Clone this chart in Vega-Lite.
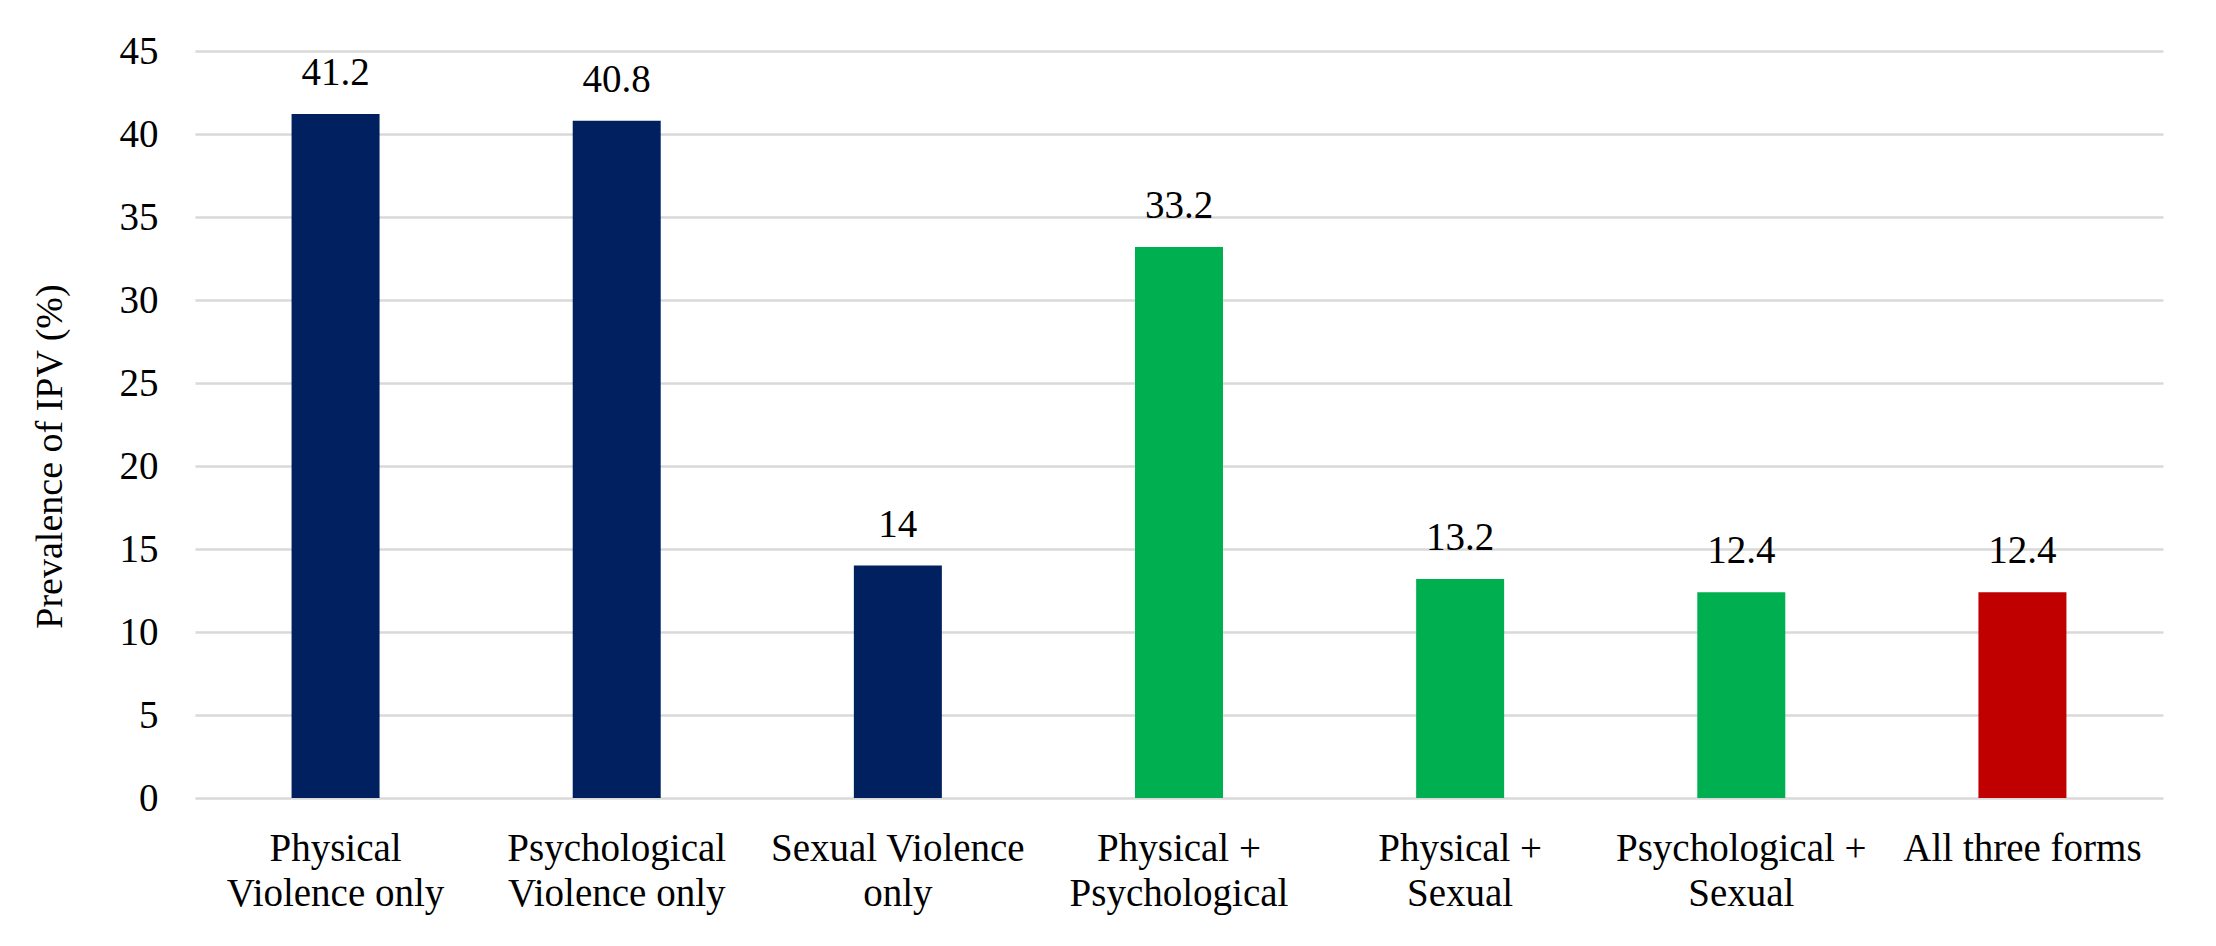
{
  "$schema": "https://vega.github.io/schema/vega-lite/v6.json",
  "width": 1968,
  "height": 747,
  "autosize": {"type": "none"},
  "padding": {"left": 195, "top": 51, "right": 53, "bottom": 148},
  "background": "white",
  "data": {
    "values": [
      {"category": "Physical\nViolence only", "value": 41.2, "group": "Single form"},
      {"category": "Psychological\nViolence only", "value": 40.8, "group": "Single form"},
      {"category": "Sexual Violence\nonly", "value": 14, "group": "Single form"},
      {"category": "Physical +\nPsychological", "value": 33.2, "group": "Two forms"},
      {"category": "Physical +\nSexual", "value": 13.2, "group": "Two forms"},
      {"category": "Psychological +\nSexual", "value": 12.4, "group": "Two forms"},
      {"category": "All three forms", "value": 12.4, "group": "Three forms"}
    ]
  },
  "encoding": {
    "x": {
      "field": "category",
      "type": "nominal",
      "sort": null,
      "scale": {"paddingInner": 0.687, "paddingOuter": 0.3435},
      "axis": {
        "title": null,
        "labelAngle": 0,
        "domain": false,
        "ticks": false,
        "labelPadding": 31,
        "labelBaseline": "top",
        "labelLineHeight": 45,
        "labelLimit": 0,
        "labelExpr": "split(datum.label, '\\n')"
      }
    },
    "y": {
      "field": "value",
      "type": "quantitative",
      "scale": {"domain": [0, 45]},
      "axis": {
        "title": "Prevalence of IPV (%)",
        "values": [0, 5, 10, 15, 20, 25, 30, 35, 40, 45],
        "domain": false,
        "ticks": false,
        "labelPadding": 37,
        "titlePadding": 50,
        "titleY": 405,
        "titleFontSize": 38,
        "titleFontWeight": "normal"
      }
    }
  },
  "layer": [
    {
      "mark": {"type": "bar"},
      "encoding": {
        "color": {
          "field": "group",
          "type": "nominal",
          "scale": {
            "domain": ["Single form", "Two forms", "Three forms"],
            "range": ["#002060", "#00B050", "#C00000"]
          },
          "legend": null
        }
      }
    },
    {
      "mark": {"type": "text", "baseline": "alphabetic", "dy": -29, "fontSize": 39, "font": "Liberation Serif", "color": "#000000"},
      "encoding": {
        "text": {"field": "value", "type": "quantitative"}
      }
    }
  ],
  "config": {
    "view": {"stroke": null},
    "axis": {
      "labelFont": "Liberation Serif",
      "titleFont": "Liberation Serif",
      "labelFontSize": 39,
      "labelColor": "#000000",
      "titleColor": "#000000",
      "gridColor": "#D9D9D9",
      "gridWidth": 2.5,
      "gridOpacity": 1
    }
  }
}
